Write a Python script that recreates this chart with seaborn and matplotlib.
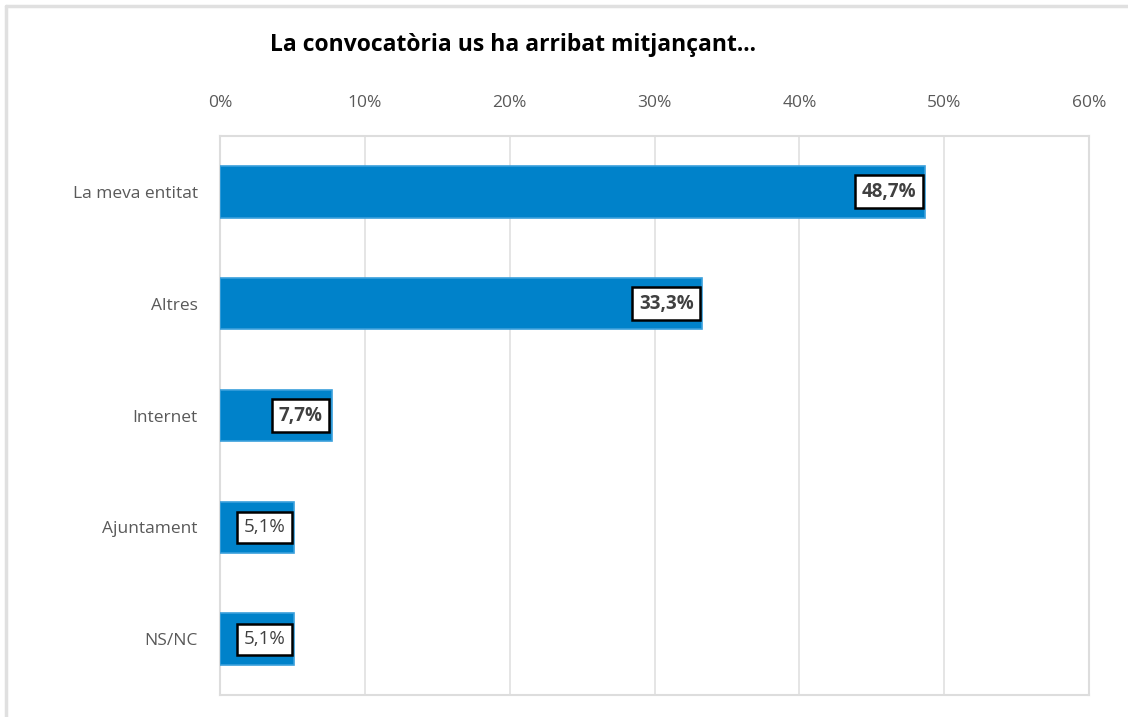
import matplotlib
matplotlib.use('Agg')
import matplotlib.pyplot as plt
from matplotlib.lines import Line2D
from matplotlib.ticker import MultipleLocator, FuncFormatter
import seaborn as sns
import pandas as pd

categories = ['La meva entitat', 'Altres', 'Internet', 'Ajuntament', 'NS/NC']
values = [48.7, 33.3, 7.7, 5.1, 5.1]
title = 'La convocatòria us ha arribat mitjançant...'

sns.set_style('white')
plt.rcParams['font.family'] = ['Open Sans', 'DejaVu Sans']

df = pd.DataFrame({'cat': categories, 'pct': values})

fig = plt.figure(figsize=(11.28, 7.17), dpi=100)
ax = fig.add_axes([220 / 1128, 1 - 695 / 717, (1089 - 220) / 1128, (695 - 136) / 717])

sns.barplot(data=df, y='cat', x='pct', orient='h', color='#0082CA', width=0.46,
            edgecolor='#3A9FDC', linewidth=1.2, saturation=1, ax=ax, zorder=3)

ax.set_xlim(0, 60)
ax.xaxis.set_major_locator(MultipleLocator(10))
ax.xaxis.set_major_formatter(FuncFormatter(lambda v, p: '{:.0f}%'.format(v)))
ax.xaxis.tick_top()
ax.grid(axis='x', color='#E0E0E0', linewidth=1.2, zorder=0)
ax.set_axisbelow(True)
ax.tick_params(axis='both', length=0, labelsize=12.5, labelcolor='#595959')
ax.tick_params(axis='x', pad=18)
ax.tick_params(axis='y', pad=16)
ax.set_xlabel('')
ax.set_ylabel('')
for s in ax.spines.values():
    s.set_color('#DDDDDD')
    s.set_linewidth(1.5)

# data labels in boxes at the end of each bar
for i, v in enumerate(values):
    ax.text(v - 0.6, i, '{:.1f}%'.format(v).replace('.', ','), ha='right', va='center',
            fontsize=13.5, fontweight='bold' if v > 6 else 'normal', color='#404040', zorder=5,
            bbox=dict(boxstyle='square,pad=0.35', facecolor='white', edgecolor='black', linewidth=1.8))

fig.text(270 / 1128, 1 - 45 / 717, title, ha='left', va='center', fontsize=16.5,
         fontweight='bold', color='black')

# outer chart border (top and left only visible)
fig.add_artist(Line2D([6 / 1128, 1], [1 - 6 / 717, 1 - 6 / 717], color='#E0E0E0', lw=2.5,
                      transform=fig.transFigure))
fig.add_artist(Line2D([6 / 1128, 6 / 1128], [0, 1 - 6 / 717], color='#E0E0E0', lw=2.5,
                      transform=fig.transFigure))

fig.savefig('out.png', dpi=100)
